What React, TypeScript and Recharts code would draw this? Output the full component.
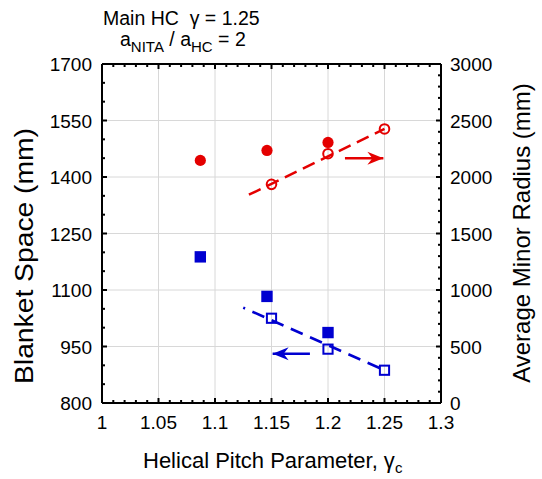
import { ScatterChart, XAxis, YAxis, Scatter, ReferenceLine } from "recharts";

// axis ticks (major ticks carry labels, minor ticks are unlabeled)
const X_MAJOR = [1, 1.05, 1.1, 1.15, 1.2, 1.25, 1.3];
const LEFT_MAJOR = [800, 950, 1100, 1250, 1400, 1550, 1700];
const RIGHT_MAJOR = [0, 500, 1000, 1500, 2000, 2500, 3000];
const X_MINOR_STEP = 0.01;
const LEFT_MINOR_STEP = 50;
const RIGHT_MINOR_STEP = 100;

// Average minor radius (right axis, red)
const RED_FILLED = [
  { x: 1.087, y: 2147 },
  { x: 1.146, y: 2235 },
  { x: 1.2, y: 2306 },
];
const RED_OPEN = [
  { x: 1.15, y: 1935 },
  { x: 1.2, y: 2206 },
  { x: 1.25, y: 2425 },
];
const RED_FIT = [
  { x: 1.13, y: 1843 },
  { x: 1.25, y: 2425 },
];
const RED_ARROW = [
  { x: 1.215, y: 2165 },
  { x: 1.249, y: 2165 },
];

// Blanket space (left axis, blue)
const BLUE_FILLED = [
  { x: 1.087, y: 1188 },
  { x: 1.146, y: 1083 },
  { x: 1.2, y: 987 },
];
const BLUE_OPEN = [
  { x: 1.15, y: 1025 },
  { x: 1.2, y: 943 },
  { x: 1.25, y: 887 },
];
const BLUE_FIT = [
  { x: 1.125, y: 1053 },
  { x: 1.25, y: 887 },
];
const BLUE_ARROW = [
  { x: 1.184, y: 931 },
  { x: 1.151, y: 931 },
];

const RED = "#e40000";
const BLUE = "#0000d0";
const GRID = "#d8d8d8";
const FONT = "'Liberation Sans', Arial, sans-serif";

const steps = (lo: number, hi: number, step: number) => {
  const out: number[] = [];
  const n = Math.round((hi - lo) / step);
  for (let i = 0; i <= n; i++) out.push(+(lo + i * step).toFixed(6));
  return out;
};
const isMajor = (v: number, majors: number[]) => majors.some((m) => Math.abs(m - v) < 1e-6);

const X_TICKS = steps(1, 1.3, X_MINOR_STEP);
const LEFT_TICKS = steps(800, 1700, LEFT_MINOR_STEP);
const RIGHT_TICKS = steps(0, 3000, RIGHT_MINOR_STEP);

const axisLine = { stroke: "#000", strokeWidth: 2 };

const BottomTick = ({ x, y, payload }: any) => {
  const major = isMajor(payload.value, X_MAJOR);
  return (
    <g>
      <line x1={x} x2={x} y1={y} y2={y - (major ? 5 : 3)} stroke="#000" strokeWidth={2} />
      {major && (
        <text x={x} y={y + 26} textAnchor="middle" fontSize={19} fontFamily={FONT} fill="#000">
          {String(payload.value)}
        </text>
      )}
    </g>
  );
};

const TopTick = ({ x, y, payload }: any) => {
  const major = isMajor(payload.value, X_MAJOR);
  return <line x1={x} x2={x} y1={y} y2={y + (major ? 5 : 3)} stroke="#000" strokeWidth={2} />;
};

const LeftTick = ({ x, y, payload }: any) => {
  const major = isMajor(payload.value, LEFT_MAJOR);
  return (
    <g>
      <line x1={x} x2={x + (major ? 5 : 3)} y1={y} y2={y} stroke="#000" strokeWidth={2} />
      {major && (
        <text x={x - 10} y={y + 7} textAnchor="end" fontSize={19} fontFamily={FONT} fill="#000">
          {String(payload.value)}
        </text>
      )}
    </g>
  );
};

const RightTick = ({ x, y, payload }: any) => {
  const major = isMajor(payload.value, RIGHT_MAJOR);
  return (
    <g>
      <line x1={x} x2={x - (major ? 5 : 3)} y1={y} y2={y} stroke="#000" strokeWidth={2} />
      {major && (
        <text x={x + 9} y={y + 7} textAnchor="start" fontSize={19} fontFamily={FONT} fill="#000">
          {String(payload.value)}
        </text>
      )}
    </g>
  );
};

const filledCircle = (p: any) => <circle cx={p.cx} cy={p.cy} r={5.6} fill={RED} />;
const openCircle = (p: any) => <circle cx={p.cx} cy={p.cy} r={4.8} fill="none" stroke={RED} strokeWidth={2} />;
const filledSquare = (p: any) => <rect x={p.cx - 5.7} y={p.cy - 5.7} width={11.4} height={11.4} fill={BLUE} />;
const openSquare = (p: any) => (
  <rect x={p.cx - 4.6} y={p.cy - 4.6} width={9.2} height={9.2} fill="none" stroke={BLUE} strokeWidth={2} />
);
const noShape = () => <g />;

const arrowHead = (color: string, tip: { x: number }, dir: number) => (p: any) => {
  if (!p.payload || p.payload.x !== tip.x) return <g />;
  const { cx, cy } = p;
  const d = `M${cx},${cy} L${cx - dir * 16},${cy - 6.5} L${cx - dir * 11},${cy} L${cx - dir * 16},${cy + 6.5} Z`;
  return <path d={d} fill={color} />;
};

export default function App() {
  return (
    <div style={{ position: "absolute", left: 0, top: 0, width: 542, height: 479, background: "#fff" }}>
      <ScatterChart width={542} height={479} margin={{ top: 63, right: 41, bottom: 46, left: 42 }}>
        <XAxis
          xAxisId="b"
          type="number"
          dataKey="x"
          domain={[1, 1.3]}
          ticks={X_TICKS}
          interval={0}
          tick={(p: any) => <BottomTick {...p} />}
          tickLine={false}
          tickSize={0}
          tickMargin={0}
          axisLine={axisLine}
          height={30}
          allowDataOverflow
        />
        <XAxis
          xAxisId="t"
          orientation="top"
          type="number"
          dataKey="x"
          domain={[1, 1.3]}
          ticks={X_TICKS}
          interval={0}
          tick={(p: any) => <TopTick {...p} />}
          tickLine={false}
          tickSize={0}
          tickMargin={0}
          axisLine={axisLine}
          height={1}
          allowDataOverflow
        />
        <YAxis
          yAxisId="l"
          type="number"
          dataKey="y"
          domain={[800, 1700]}
          ticks={LEFT_TICKS}
          interval={0}
          tick={(p: any) => <LeftTick {...p} />}
          tickLine={false}
          tickSize={0}
          tickMargin={0}
          axisLine={axisLine}
          width={60}
          allowDataOverflow
        />
        <YAxis
          yAxisId="r"
          orientation="right"
          type="number"
          dataKey="y"
          domain={[0, 3000]}
          ticks={RIGHT_TICKS}
          interval={0}
          tick={(p: any) => <RightTick {...p} />}
          tickLine={false}
          tickSize={0}
          tickMargin={0}
          axisLine={axisLine}
          width={60}
          allowDataOverflow
        />

        {X_MAJOR.slice(1, -1).map((v) => (
          <ReferenceLine key={`gx${v}`} xAxisId="b" yAxisId="l" x={v} stroke={GRID} strokeWidth={1} />
        ))}
        {LEFT_MAJOR.slice(1, -1).map((v) => (
          <ReferenceLine key={`gy${v}`} xAxisId="b" yAxisId="l" y={v} stroke={GRID} strokeWidth={1} />
        ))}

        <Scatter
          xAxisId="b"
          yAxisId="r"
          data={RED_FIT}
          fill={RED}
          line={{ stroke: RED, strokeWidth: 2.5, strokeDasharray: "13 7" }}
          shape={noShape}
          isAnimationActive={false}
        />
        <Scatter
          xAxisId="b"
          yAxisId="l"
          data={BLUE_FIT}
          fill={BLUE}
          line={{ stroke: BLUE, strokeWidth: 2.5, strokeDasharray: "13 8", strokeDashoffset: 11 }}
          shape={noShape}
          isAnimationActive={false}
        />
        <Scatter
          xAxisId="b"
          yAxisId="r"
          data={RED_ARROW}
          fill={RED}
          line={{ stroke: RED, strokeWidth: 2.5 }}
          shape={arrowHead(RED, RED_ARROW[1], 1)}
          isAnimationActive={false}
        />
        <Scatter
          xAxisId="b"
          yAxisId="l"
          data={BLUE_ARROW}
          fill={BLUE}
          line={{ stroke: BLUE, strokeWidth: 2.5 }}
          shape={arrowHead(BLUE, BLUE_ARROW[1], -1)}
          isAnimationActive={false}
        />
        <Scatter xAxisId="b" yAxisId="r" data={RED_FILLED} fill={RED} shape={filledCircle} isAnimationActive={false} />
        <Scatter xAxisId="b" yAxisId="r" data={RED_OPEN} fill={RED} shape={openCircle} isAnimationActive={false} />
        <Scatter xAxisId="b" yAxisId="l" data={BLUE_FILLED} fill={BLUE} shape={filledSquare} isAnimationActive={false} />
        <Scatter xAxisId="b" yAxisId="l" data={BLUE_OPEN} fill={BLUE} shape={openSquare} isAnimationActive={false} />
      </ScatterChart>

      <svg
        width={542}
        height={479}
        style={{ position: "absolute", left: 0, top: 0, pointerEvents: "none" }}
        fontFamily={FONT}
        fill="#000"
      >
        <text x={103} y={25} fontSize={19.5}>
          Main HC{"\u00a0\u00a0"}γ = 1.25
        </text>
        <text x={120} y={46} fontSize={19.5}>
          a
          <tspan fontSize={15} dy={6}>NITA</tspan>
          <tspan dy={-6}> / a</tspan>
          <tspan fontSize={15} dy={6}>HC</tspan>
          <tspan dy={-6}> = 2</tspan>
        </text>
        <text x={143} y={468} fontSize={22}>
          Helical Pitch Parameter, γ
          <tspan fontSize={15} dy={5}>c</tspan>
        </text>
        <text
          x={33}
          y={256}
          fontSize={26}
          textAnchor="middle"
          textLength={256}
          lengthAdjust="spacingAndGlyphs"
          transform="rotate(-90 33 256)"
        >
          Blanket Space (mm)
        </text>
        <text x={530} y={233} fontSize={24} textAnchor="middle" transform="rotate(-90 530 233)">
          Average Minor Radius (mm)
        </text>
      </svg>
    </div>
  );
}
